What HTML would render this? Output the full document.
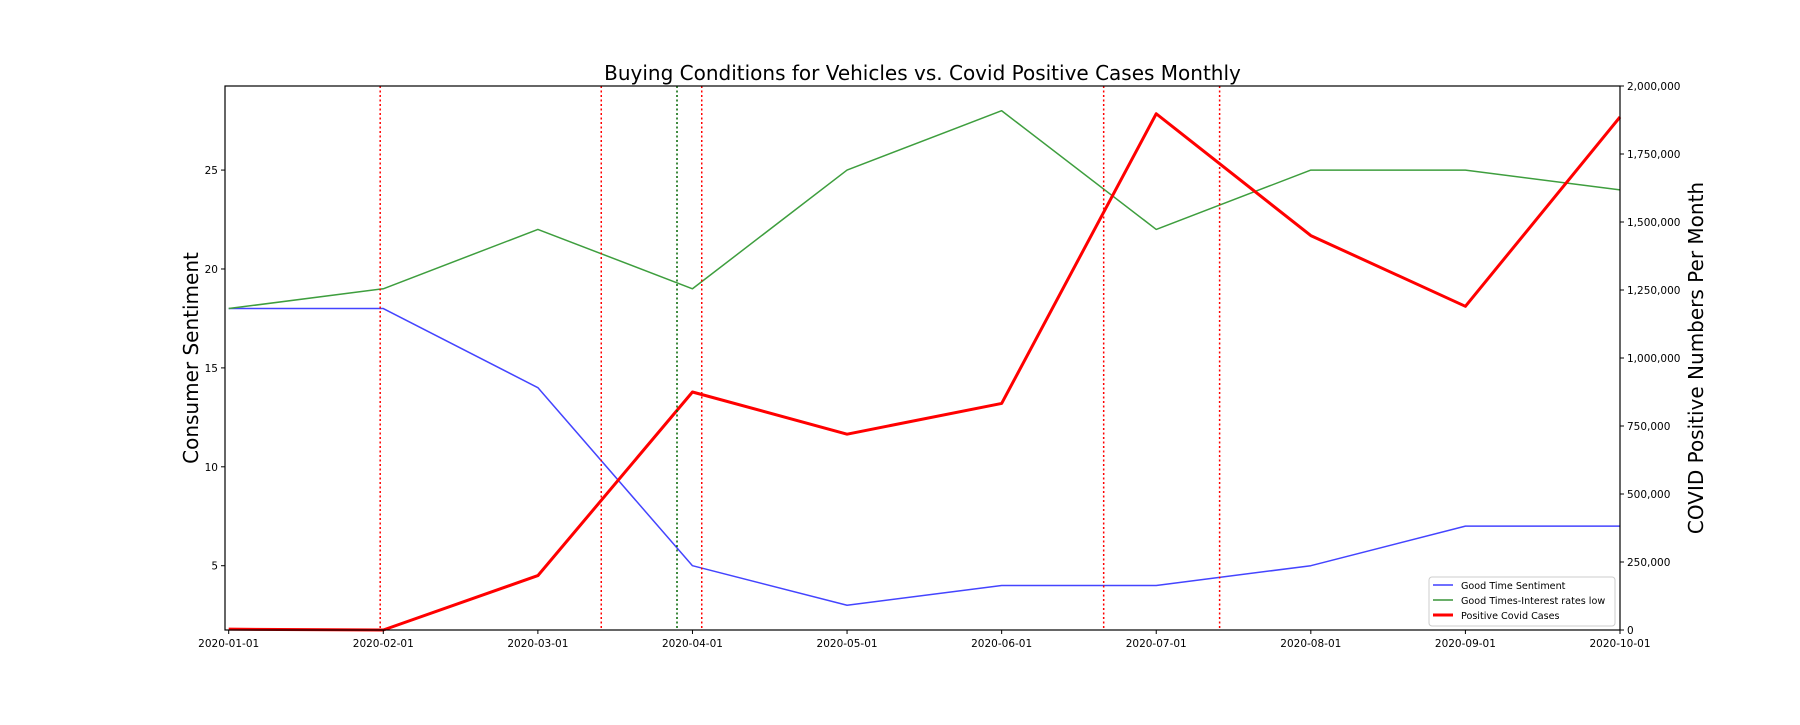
<!DOCTYPE html>
<html><head><meta charset="utf-8"><style>
body{margin:0;background:#fff}
svg text{font-family:"DejaVu Sans","Liberation Sans",sans-serif;fill:#000}
</style></head><body>
<svg id="chart" width="1800" height="720" xmlns="http://www.w3.org/2000/svg"></svg>
<script>
const months = ["2020-01-01","2020-02-01","2020-03-01","2020-04-01","2020-05-01","2020-06-01","2020-07-01","2020-08-01","2020-09-01","2020-10-01"];
const goodTime = [18,18,14,5,3,4,4,5,7,7];
const interestLow = [18,19,22,19,25,28,22,25,25,24];
const covidCases = [3000,0,200000,875000,720000,833000,1898000,1450000,1190000,1886000];
const redEvents = [0.98,2.41,3.06,5.66,6.41];
const greenEvents = [2.90];
const leftTicks = [5,10,15,20,25];
const rightTicks = [0,250000,500000,750000,1000000,1250000,1500000,1750000,2000000];

const NS="http://www.w3.org/2000/svg";
const svg=document.getElementById('chart');
const L=225,R=1620,T=86,B=630;
const x=i=>228.7+(R-228.7)*i/9;
const yl=v=>B-(v-1.75)/(29.25-1.75)*(B-T);
const yr=v=>B-v/2000000*(B-T);
function mk(tag,at,name,txt){const e=document.createElementNS(NS,tag);for(const k in at)e.setAttribute(k,at[k]);


if(txt!==undefined)e.textContent=txt;svg.appendChild(e);return e;}
const fmt=v=>v.toLocaleString('en-US');

mk('text',{x:(L+R)/2,y:80,'text-anchor':'middle','font-size':20},'chart-title','Buying Conditions for Vehicles vs. Covid Positive Cases Monthly');
mk('text',{x:0,y:0,'text-anchor':'middle','font-size':20,transform:`translate(198,${(T+B)/2}) rotate(-90)`},'left-y-axis-title','Consumer Sentiment');
mk('text',{x:0,y:0,'text-anchor':'middle','font-size':20,transform:`translate(1703,${(T+B)/2}) rotate(-90)`},'right-y-axis-title','COVID Positive Numbers Per Month');

function poly(vals,yf,color,w,name){
  mk('polyline',{points:vals.map((v,i)=>x(i)+','+yf(v)).join(' '),fill:'none',stroke:color,'stroke-width':w,'stroke-linejoin':'round'},name);
}
poly(goodTime,yl,'#4444ff',1.5,'good-time-sentiment-line');
poly(interestLow,yl,'#3e9e3e',1.5,'interest-rates-low-line');
poly(covidCases,yr,'#ff0000',3,'covid-cases-line');
redEvents.forEach(e=>mk('line',{x1:x(e),x2:x(e),y1:T,y2:B,stroke:'#ff0000','stroke-width':1.5,'stroke-dasharray':'2,2.5'},'event-line-red'));
greenEvents.forEach(e=>mk('line',{x1:x(e),x2:x(e),y1:T,y2:B,stroke:'#006400','stroke-width':1.5,'stroke-dasharray':'2,2.5'},'event-line-green'));

mk('rect',{x:L,y:T,width:R-L,height:B-T,fill:'none',stroke:'#000','stroke-width':1.2},'plot-frame');
months.forEach((m,i)=>{mk('line',{x1:x(i),x2:x(i),y1:B,y2:B+4,stroke:'#000'},'x-tick');
mk('text',{x:x(i),y:B+17,'text-anchor':'middle','font-size':10.5},'x-tick-label',m);});
leftTicks.forEach(v=>{mk('line',{x1:L-4,x2:L,y1:yl(v),y2:yl(v),stroke:'#000'},'left-y-tick');
mk('text',{x:L-7,y:yl(v)+4,'text-anchor':'end','font-size':10.5},'left-y-tick-label',v);});
rightTicks.forEach(v=>{mk('line',{x1:R,x2:R+4,y1:yr(v),y2:yr(v),stroke:'#000'},'right-y-tick');
mk('text',{x:R+7,y:yr(v)+4,'text-anchor':'start','font-size':10.5},'right-y-tick-label',fmt(v));});

mk('rect',{x:1429,y:577,width:186,height:49,rx:3,fill:'#fff',stroke:'#ccc'},'legend-box');
[['Good Time Sentiment','#6f6fff',2],['Good Times-Interest rates low','#6aaf6a',2],['Positive Covid Cases','#ff0000',3]].forEach((d,i)=>{
 const yy=585+i*15;
 mk('line',{x1:1433,x2:1453,y1:yy,y2:yy,stroke:d[1],'stroke-width':d[2]},'legend-swatch');
 mk('text',{x:1461,y:yy+4,'font-size':9.6},'legend-entry',d[0]);});
</script>
</body></html>
